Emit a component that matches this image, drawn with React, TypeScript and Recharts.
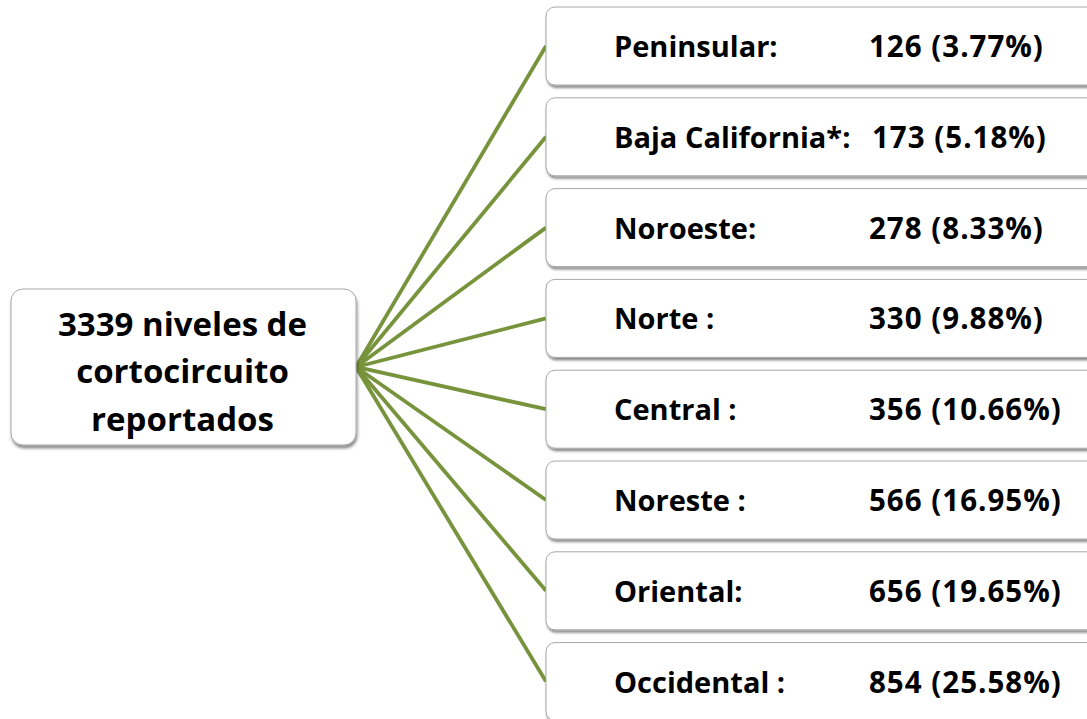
import React from "react";
import { ComposedChart, XAxis, YAxis, Line, Scatter } from "recharts";

// ---- data ----
const rootLines = ["3339 niveles de", "cortocircuito", "reportados"];
const regionLabels = [
  "Peninsular:",
  "Baja California*:",
  "Noroeste:",
  "Norte :",
  "Central :",
  "Noreste :",
  "Oriental:",
  "Occidental :",
];
const regionCounts = [126, 173, 278, 330, 356, 566, 656, 854];
const regionPercents = ["3.77", "5.18", "8.33", "9.88", "10.66", "16.95", "19.65", "25.58"];

// ---- layout (axis units) ----
const ROOT_X = 0;
const LEAF_X = 1;
const ROOT_Y = 3.535;

const W = 1087;
const H = 719;
const FONT = "'Open Sans', Lato, sans-serif";
const GREEN = "#77933C";

const leafData = regionLabels.map((label, i) => ({
  x: LEAF_X,
  y: i,
  label,
  value: `${regionCounts[i]} (${regionPercents[i]}%)`,
}));
const rootData = [{ x: ROOT_X, y: ROOT_Y }];

const LeafShape = (props: any) => {
  const { cx, cy, payload } = props;
  const idx = payload.y;
  const valueX = idx === 1 ? cx + 326 : cx + 323;
  return (
    <g>
      <defs>
        <filter id={`sh-leaf-${idx}`} x="-10%" y="-20%" width="130%" height="160%">
          <feDropShadow dx="1" dy="2.5" stdDeviation="1.3" floodColor="#000" floodOpacity="0.45" />
        </filter>
      </defs>
      <rect
        x={cx}
        y={cy - 39}
        width={560}
        height={78}
        rx={9}
        ry={9}
        fill="#ffffff"
        stroke="#a8a8a8"
        strokeWidth={1}
        filter={`url(#sh-leaf-${idx})`}
      />
      <text x={cx + 68} y={cy + 11} fontFamily={FONT} fontWeight={700} fontSize={29} fill="#000">
        {payload.label}
      </text>
      <text
        x={valueX}
        y={cy + 11}
        fontFamily={FONT}
        fontWeight={700}
        fontSize={29.5}
        letterSpacing={1}
        fill="#000"
      >
        {payload.value}
      </text>
    </g>
  );
};

const RootShape = (props: any) => {
  const { cx, cy } = props;
  const w = 345;
  const h = 156;
  return (
    <g>
      <defs>
        <filter id="sh-root" x="-10%" y="-10%" width="130%" height="130%">
          <feDropShadow dx="1" dy="3" stdDeviation="1.5" floodColor="#000" floodOpacity="0.45" />
        </filter>
      </defs>
      <rect
        x={cx - w}
        y={cy - h / 2}
        width={w}
        height={h}
        rx={12}
        ry={12}
        fill="#ffffff"
        stroke="#a8a8a8"
        strokeWidth={1}
        filter="url(#sh-root)"
      />
      {rootLines.map((t, k) => (
        <text
          key={k}
          x={cx - w / 2 - 1}
          y={cy - 31 + k * 47.5}
          textAnchor="middle"
          fontFamily={FONT}
          fontWeight={700}
          fontSize={33}
          fill="#000"
        >
          {t}
        </text>
      ))}
    </g>
  );
};

export default function App() {
  const unitX = 190;
  const rootPx = 356;
  const unitY = 90.8;
  const topPx = 46;
  const xDomain = [-rootPx / unitX, (W - rootPx) / unitX];
  const yDomain = [-topPx / unitY, (H - topPx) / unitY];

  return (
    <div style={{ position: "absolute", left: 0, top: 0, width: W, height: H, background: "#fff" }}>
      <ComposedChart width={W} height={H} margin={{ top: 0, right: 0, bottom: 0, left: 0 }}>
        <XAxis type="number" dataKey="x" domain={xDomain} allowDataOverflow hide />
        <YAxis type="number" dataKey="y" domain={yDomain} allowDataOverflow reversed hide />
        {leafData.map((d, i) => (
          <Line
            key={`ln-${i}`}
            data={[
              { x: ROOT_X, y: ROOT_Y },
              { x: d.x, y: d.y },
            ]}
            dataKey="y"
            stroke={GREEN}
            strokeWidth={3.8}
            dot={false}
            activeDot={false}
            isAnimationActive={false}
            legendType="none"
          />
        ))}
        <Scatter data={rootData} dataKey="y" shape={RootShape} isAnimationActive={false} />
        <Scatter data={leafData} dataKey="y" shape={LeafShape} isAnimationActive={false} />
      </ComposedChart>
    </div>
  );
}
